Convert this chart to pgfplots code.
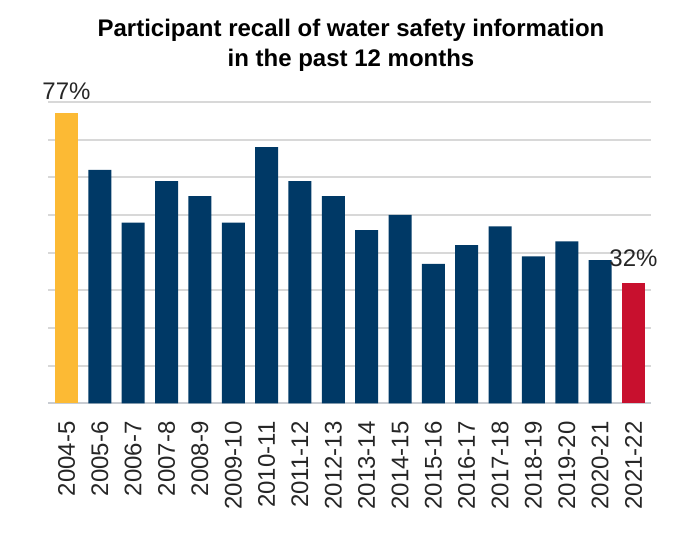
\documentclass[border=0pt]{standalone}
\usepackage{fontspec}
\setmainfont{Liberation Sans}
\usepackage{pgfplots}
\pgfplotsset{compat=1.18}
\definecolor{navy}{RGB}{0,57,102}
\definecolor{gold}{RGB}{252,186,52}
\definecolor{crimson}{RGB}{200,16,46}
\definecolor{gridgray}{RGB}{216,216,216}
\definecolor{basegray}{RGB}{200,204,210}
\begin{document}
\begin{tikzpicture}[x=1pt,y=1pt]
\path[use as bounding box] (0,0) rectangle (689,533);
\node[align=center, font=\fontsize{24}{30}\selectfont\bfseries] at (351,488) {Participant recall of water safety information\\in the past 12 months};
\begin{axis}[
  at={(48pt,129.7pt)}, anchor=south west,
  width=603pt, height=301.3pt, scale only axis,
  xmin=-0.555, xmax=17.525, ymin=0, ymax=80,
  axis x line*=bottom, axis y line*=left,
  y axis line style={draw=none},
  x axis line style={color=basegray, line width=2.2pt, -},
  ytick={10,20,...,80}, yticklabels={},
  ymajorgrids=true,
  major grid style={draw=gridgray, line width=2pt},
  xtick={0,...,17},
  xticklabels={2004-5,2005-6,2006-7,2007-8,2008-9,2009-10,2010-11,2011-12,2012-13,2013-14,2014-15,2015-16,2016-17,2017-18,2018-19,2019-20,2020-21,2021-22},
  major tick length=0pt,
  xticklabel style={yshift=-18pt, rotate=90, anchor=east, inner sep=0pt, font=\fontsize{24}{24}\selectfont, text=black!85},
  /pgf/number format/assume math mode=true,
  clip=false,
  every axis plot/.append style={ybar, bar width=23pt, bar shift=0pt, draw=none},
  nodes near coords style={font=\fontsize{24}{24}\selectfont, anchor=south, inner sep=0pt, text=black!85},
]
\addplot[fill=gold, nodes near coords={\pgfmathprintnumber{\pgfplotspointmeta}\%}, nodes near coords style={yshift=13pt}] coordinates {(0,77)};
\addplot[fill=navy] coordinates {
(1,62) (2,48) (3,59) (4,55) (5,48) (6,68) (7,59) (8,55) (9,46) (10,50) (11,37) (12,42) (13,47) (14,39) (15,43) (16,38)};
\addplot[fill=crimson, nodes near coords={\pgfmathprintnumber{\pgfplotspointmeta}\%}, nodes near coords style={yshift=16pt}] coordinates {(17,32)};
\end{axis}
\end{tikzpicture}
\end{document}
